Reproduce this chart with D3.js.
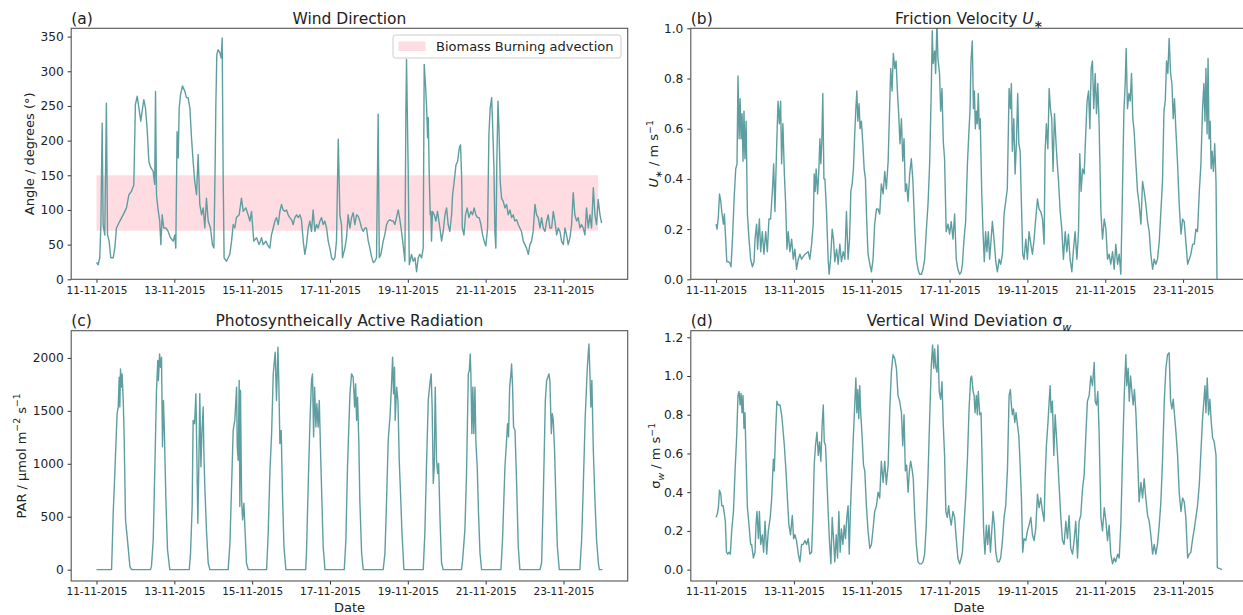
<!DOCTYPE html>
<html>
  <head>
    <meta charset="utf-8">
    <title>Meteorological conditions, 11-11-2015 to 24-11-2015</title>
    <script src="https://d3js.org/d3.v7.min.js"></script>
    <style type="text/css">
      body {
        margin: 0;
        background: #ffffff;
      }
      svg text {
        font-family: "DejaVu Sans", sans-serif;
        fill: #222222;
      }
    </style>
  </head>
  <body>
    <script>
      // Every series is a list of [hours since 11-11-2015 00:00, value]

      // (a) wind direction in degrees
      var windDirection = [
        [0,24.5],[1,21],[2,31],[2.7,79],[3.5,225],[4.1,79],[5.1,64],[6.1,254],[6.8,64],[7.8,55],
        [8.8,31],[10.3,31],[11.3,45],[12.3,74],[14.4,84],[16.4,93],[18.5,103],[20,122],[21.6,127],[23,136],
        [24,252],[25.1,264],[26.3,245],[27.3,228],[28.4,247],[29.2,259],[30.2,247],[31.2,218],[32.3,170],[33.5,161],
        [34.9,156],[35.9,137],[36.4,271],[37,122],[38,100],[39,84],[39.7,50],[40.5,93],[41.5,74],[42.8,74],
        [44.2,69],[45.6,60],[47.3,55],[48.3,64],[48.9,45],[49.7,213],[50.4,175],[51,247],[51.8,266],[53,279],
        [54.5,271],[55.5,262],[56.5,262],[57.6,247],[58.6,204],[59.6,170],[60.6,141],[61.7,122],[62.7,180],[63.7,108],
        [64.8,93],[65.8,103],[66.8,74],[67.8,117],[68.9,84],[70.3,74],[71.5,50],[72.4,45],[73.2,170],[73.6,250],
        [74.2,324],[75,331],[76.1,327],[76.9,319],[77.5,348],[78.1,151],[78.7,31],[80.2,26],[81.2,31],[82.2,36],
        [83.3,55],[84.3,79],[85.3,74],[86.3,89],[88,93],[89.4,117],[90.5,98],[92.1,103],[93.5,93],[94.6,84],
        [95.6,98],[97,55],[98.7,60],[100.3,50],[101.8,60],[102.8,50],[104.4,55],[105.9,48],[106.9,45],[107.9,64],
        [109,74],[110,84],[111,89],[112.1,79],[113.1,98],[114.1,108],[115.1,100],[116.2,98],[117.2,100],[118.2,93],
        [119.2,89],[120.3,86],[121.3,79],[122.3,89],[123.4,93],[124.4,89],[125.4,93],[126.4,86],[127.5,55],[128.5,36],
        [129.5,50],[130.6,74],[131.6,84],[132.6,69],[133.6,100],[134.7,69],[135.7,79],[136.7,74],[137.8,84],[138.8,89],
        [139.8,79],[140.8,84],[141.9,74],[142.9,55],[143.9,45],[145,31],[146,28],[147,31],[148,55],[149.1,202],
        [150.1,93],[151.1,79],[151.7,31],[153.2,45],[154.2,60],[155.2,93],[156.3,74],[157.3,89],[158.3,96],[159.3,79],
        [160.4,93],[161.4,91],[162.4,84],[163.5,74],[164.5,69],[165.5,74],[166.5,74],[167.6,55],[168.6,45],[169.6,33],
        [170.7,24],[171.7,26],[172.7,31],[173.7,238],[174.4,31],[175.4,36],[176.8,55],[177.8,64],[178.9,79],[179.9,84],
        [180.9,86],[182,84],[183,84],[184,79],[185,89],[186.1,100],[187.1,86],[188.1,69],[189.1,50],[190.2,26],
        [190.8,242],[191.2,317],[192.2,161],[192.9,21],[194.3,36],[195.3,26],[196.4,31],[197.4,11],[198.4,31],[199.4,36],
        [200.5,31],[201.5,45],[202.1,310],[203,276],[203.6,247],[204.2,204],[204.6,233],[205.2,151],[205.8,93],[206.2,98],
        [206.6,55],[207.2,98],[208.3,93],[209.3,84],[210.3,98],[211.8,74],[212.8,55],[213.8,69],[214.9,93],[215.9,103],
        [216.9,79],[217.9,69],[219,93],[219.6,122],[220.6,141],[221.7,165],[222.7,170],[223.7,189],[224.5,194],[225.2,146],
        [225.6,74],[226.6,64],[227.6,93],[228.6,103],[229.7,89],[230.9,98],[231.9,93],[232.9,103],[234,93],[235,89],
        [236,89],[237.1,79],[238.1,64],[239.1,55],[240.1,48],[241.2,74],[242,209],[242.8,247],[243.7,262],[244.3,223],
        [245.1,161],[245.7,69],[246.3,45],[246.9,170],[247.6,257],[248.2,218],[249,141],[249.8,117],[250.9,112],[251.9,103],
        [252.9,108],[253.9,93],[255,100],[256,89],[257,93],[258,84],[259.1,86],[260.1,79],[261.1,74],[262.1,69],
        [263.2,55],[264.2,50],[265.2,45],[266.3,36],[267.3,50],[268.3,55],[269.3,69],[270.4,108],[271.4,93],[272.4,89],
        [273.5,74],[274.5,89],[275.5,74],[276.6,69],[277.6,84],[278.6,93],[279.6,74],[280.7,74],[281.7,98],[282.7,84],
        [283.8,64],[284.8,74],[285.8,69],[286.8,55],[287.9,50],[288.9,74],[289.9,64],[290.9,50],[292,60],[293,79],
        [294,125],[295,93],[296.1,84],[297.1,89],[298.1,74],[299.1,79],[300.2,74],[301.2,64],[302.2,103],[303.3,74],
        [304.3,93],[305.3,74],[306.4,132],[307.4,93],[308.4,79],[309.4,115],[310.5,93],[311.5,81]
      ];

      // biomass burning advection sector: start/end hour and angle range
      var bandHours = [0, 309.4];
      var bandAngles = [70, 150];

      // (b) friction velocity U* in m/s
      var frictionVelocity = [
        [0,0.22],[0.6,0.2],[1.4,0.25],[2.1,0.34],[2.9,0.31],[3.5,0.27],[4.5,0.22],[5.1,0.26],[5.9,0.16],[6.6,0.07],
        [7.6,0.07],[8.6,0.064],[9.2,0.05],[10.1,0.16],[11.1,0.32],[12.1,0.44],[12.9,0.46],[13.5,0.81],[14.2,0.56],[14.8,0.72],
        [15.4,0.56],[16,0.66],[16.6,0.47],[17.2,0.67],[17.8,0.48],[18.5,0.63],[19.3,0.26],[20.3,0.16],[21.3,0.08],[22.4,0.05],
        [23.4,0.07],[24,0.16],[25,0.22],[25.6,0.12],[26.7,0.24],[27.5,0.11],[28.5,0.19],[29.5,0.1],[30.6,0.19],[31.6,0.11],
        [32.6,0.24],[33.6,0.24],[34.7,0.35],[35.5,0.46],[36.3,0.27],[37.3,0.52],[38.2,0.71],[39,0.62],[39.8,0.71],[40.4,0.46],
        [41.2,0.62],[42.1,0.42],[42.9,0.3],[43.7,0.12],[44.5,0.19],[45.5,0.11],[46.6,0.16],[47.6,0.08],[48.6,0.12],[49.6,0.04],
        [50.7,0.08],[51.7,0.1],[52.7,0.08],[54.8,0.1],[56.8,0.11],[57.8,0.08],[58.9,0.14],[59.9,0.22],[60.5,0.42],[61.1,0.35],
        [61.7,0.44],[62.6,0.34],[63.4,0.44],[64,0.56],[64.6,0.46],[65.2,0.55],[65.8,0.74],[66.5,0.4],[67.1,0.4],[68.1,0.27],
        [69.1,0.08],[69.7,0.02],[70.6,0.08],[71.6,0.2],[72.4,0.16],[73.2,0.07],[74.3,0.12],[75.3,0.06],[76.3,0.14],[77.3,0.07],
        [78.4,0.11],[79.4,0.08],[80.4,0.27],[81.4,0.08],[82.3,0.16],[83.1,0.35],[83.9,0.38],[84.7,0.44],[85.5,0.58],[86.2,0.68],
        [86.8,0.75],[87.4,0.63],[88.2,0.7],[88.8,0.6],[89.6,0.63],[90.5,0.54],[91.3,0.44],[92.1,0.4],[92.9,0.23],[93.7,0.1],
        [94.8,0.06],[95.8,0.03],[96.8,0.08],[97.8,0.22],[98.9,0.28],[99.9,0.28],[100.9,0.26],[101.9,0.38],[103,0.34],[104,0.43],
        [105,0.36],[106.1,0.47],[107.1,0.7],[107.7,0.84],[108.5,0.75],[109.3,0.9],[110.2,0.84],[111,0.87],[111.8,0.75],[112.6,0.66],
        [113.4,0.54],[114.3,0.64],[115.1,0.47],[115.9,0.56],[116.7,0.35],[117.5,0.38],[118.4,0.31],[119.4,0.42],[120.4,0.48],[121.4,0.39],
        [122.5,0.2],[123.5,0.08],[124.5,0.04],[125.5,0.02],[126.6,0.02],[127.6,0.04],[128.6,0.08],[129.6,0.19],[130.7,0.3],[131.7,0.46],
        [132.7,0.75],[133.3,0.99],[133.9,0.86],[134.8,0.91],[135.4,0.82],[136.2,1.03],[136.8,0.88],[137.8,0.82],[138.5,0.67],[139.3,0.76],
        [140.1,0.55],[140.9,0.48],[141.9,0.19],[143,0.22],[144,0.18],[145,0.23],[146.1,0.16],[147.1,0.26],[148.1,0.08],[149.1,0.04],
        [150.2,0.02],[151.2,0.03],[151.9,0.06],[152.9,0.16],[153.9,0.23],[155,0.46],[156,0.6],[156.6,0.67],[157.2,0.87],[158,0.95],
        [158.7,0.68],[159.3,0.75],[159.9,0.6],[160.5,0.67],[161.1,0.62],[161.7,0.74],[162.3,0.6],[162.9,0.64],[163.8,0.35],[164.6,0.19],
        [165.4,0.07],[166.2,0.19],[167,0.11],[167.9,0.19],[168.7,0.08],[169.5,0.15],[170.4,0.23],[171.4,0.16],[172.5,0.07],[173.5,0.03],
        [174.5,0.08],[175.5,0.06],[176.6,0.1],[177.6,0.26],[178.6,0.31],[179.6,0.36],[180.7,0.76],[181.5,0.68],[182.1,0.78],[182.7,0.51],
        [183.6,0.64],[184.4,0.42],[185.2,0.54],[186,0.74],[186.7,0.54],[187.5,0.51],[188.3,0.3],[189.1,0.1],[189.9,0.08],[191,0.16],
        [192,0.08],[193,0.19],[194.1,0.14],[195.1,0.1],[196.1,0.16],[197.1,0.24],[198.2,0.32],[199.2,0.28],[200.2,0.27],[201.3,0.24],
        [202.3,0.14],[202.9,0.51],[203.7,0.62],[204.6,0.52],[205.4,0.76],[206.2,0.68],[207,0.64],[207.8,0.43],[208.7,0.66],[209.5,0.56],
        [210.3,0.47],[211.1,0.4],[212.2,0.27],[213.2,0.2],[214.2,0.08],[215.3,0.19],[216.3,0.11],[217.3,0.18],[218.3,0.08],[219.4,0.03],
        [220.4,0.12],[221.4,0.19],[222.5,0.08],[223.5,0.19],[224.3,0.5],[225.1,0.35],[226,0.44],[227,0.42],[228,0.59],[228.8,0.71],
        [229.7,0.75],[230.5,0.6],[231.3,0.84],[232.1,0.87],[232.9,0.68],[233.8,0.82],[234.6,0.66],[235.4,0.78],[236.2,0.62],[237.3,0.27],
        [238.3,0.16],[239.4,0.24],[240.4,0.2],[241.4,0.08],[242.4,0.1],[243.4,0.06],[244.5,0.11],[245.5,0.04],[246.5,0.14],[247.6,0.06],
        [248.6,0.1],[249.6,0.02],[250.6,0.35],[251.5,0.67],[252.3,0.78],[252.9,0.92],[253.7,0.68],[254.6,0.74],[255.4,0.71],[256.2,0.82],
        [257,0.64],[257.8,0.59],[258.9,0.46],[259.9,0.35],[260.9,0.3],[262,0.22],[263,0.39],[264,0.35],[265,0.3],[266.1,0.23],
        [267.1,0.19],[268.1,0.1],[269.2,0.04],[270.2,0.08],[271.2,0.06],[272.2,0.08],[273.3,0.15],[274.3,0.27],[275.3,0.39],[276.2,0.67],
        [277,0.71],[277.8,0.87],[278.6,0.82],[279.4,0.96],[280.3,0.82],[281.1,0.78],[281.9,0.64],[282.7,0.72],[283.6,0.59],[284.6,0.46],
        [285.6,0.3],[286.7,0.18],[287.7,0.24],[288.7,0.23],[289.7,0.15],[290.8,0.06],[291.8,0.08],[292.8,0.1],[293.9,0.14],[294.9,0.14],
        [295.9,0.2],[296.9,0.19],[298,0.35],[299,0.46],[300,0.68],[300.8,0.78],[301.5,0.63],[302.1,0.84],[302.8,0.58],[303.4,0.88],
        [304,0.56],[304.7,0.63],[305.3,0.44],[305.9,0.51],[306.7,0.43],[307.5,0.54],[308.3,0.39],[308.9,0]
      ];

      // (c) photosynthetically active radiation in umol m-2 s-1
      var parRadiation = [
        [0,0],[9.3,0],[10.3,533],[11.3,909],[12.7,1473],[13.4,1536],[14,1818],[14.4,1536],[14.8,1896],[15.4,1724],
        [15.8,1849],[16.5,1598],[17.1,1222],[17.9,470],[19.1,282],[20.6,31],[21.6,0],
        [33.3,0],[33.9,31],[35,282],[36,972],[37,1693],[37.8,1975],[38.2,1787],[38.9,2037],[39.5,1912],
        [40.1,2006],[40.7,1160],[41.3,1598],[41.9,1285],[42.8,658],[43.8,188],[45.2,0],
        [57.2,0],[58,157],[59,596],[59.6,1410],[60.5,1379],[61.3,1661],[61.9,1066],[62.5,439],[63.1,972],
        [63.7,1661],[64.4,972],[65,1285],[65.8,1536],[66.2,1128],[66.8,784],[67.9,345],[68.9,63],[69.9,0],
        [81.2,0],[82.3,251],[83.3,784],[84.3,1316],[85.3,1410],[86.4,1724],[86.8,1160],[87.4,1034],[88,1787],
        [88.4,596],[88.8,1693],[89.5,658],[90.1,470],[90.9,627],[91.5,407],[92.5,63],[93.6,0],
        [104.9,0],[105.9,345],[106.9,909],[108,1285],[109,1849],[110.2,2053],[111,1598],[111.9,2100],[112.5,1724],
        [113.1,1191],[113.9,1316],[114.7,721],[115.6,219],[116.8,0],
        [129,0],[129.5,157],[130.6,815],[131.6,1379],[132.6,1787],[133.2,1849],[133.9,1254],[134.5,1724],[135.3,1348],
        [135.9,1567],[136.7,1348],[137.4,1598],[138.2,1097],[139,658],[139.8,219],[140.9,0],
        [152.8,0],[153.8,282],[154.8,972],[156.3,1661],[157.3,1849],[158.3,1818],[159.2,1536],[159.8,1755],[160.4,1410],
        [161,1630],[161.8,1191],[162.4,658],[163.5,157],[164.5,0],
        [176.8,0],[177.9,157],[178.9,658],[179.9,1222],[181,1442],[181.8,1693],[182.6,2006],[183.2,1661],[183.8,1912],
        [184.2,1410],[185.1,1724],[185.9,1598],[186.7,1034],[187.5,721],[188.4,345],[189.6,0],
        [201.5,0],[202.5,345],[203.5,972],[204.6,1598],[205.6,1755],[206.4,1849],[207,1536],[207.7,815],[208.3,972],
        [208.9,1724],[209.7,1034],[210.4,909],[211,1003],[211.8,501],[212.8,63],[213.8,0],
        [225.1,0],[225.8,94],[227.2,376],[228.2,909],[229.3,1849],[229.9,1880],[230.5,2037],[230.9,1849],[231.5,1285],
        [232.1,1724],[232.7,1285],[233.4,1724],[234,1191],[234.8,972],[235.6,533],[236.5,157],[237.5,0],
        [249.4,0],[250.4,282],[251.9,972],[252.9,1222],[253.5,1379],[254.1,1254],[254.8,1724],[255.4,1818],[256,1943],
        [256.6,1724],[257.2,1348],[258.1,1316],[259.1,815],[260.1,219],[261.1,0],
        [273.5,0],[274.5,63],[275.5,658],[276.8,1598],[277.6,1787],[278.4,1818],[279,1849],[279.6,1787],[280.5,1285],
        [281.1,1473],[281.7,1410],[282.5,1128],[283.3,658],[284.2,219],[285.4,0],
        [298.1,0],[299.2,282],[300.2,784],[301.4,1442],[302.7,1912],[303.7,2131],[304.3,1849],[304.9,1536],[305.5,1787],
        [306.4,1128],[307.4,658],[308.4,282],[309.5,63],[310.1,0],[312,0]
      ];

      // (d) standard deviation of vertical wind in m/s
      var sigmaW = [
        [0,0.27],[0.8,0.29],[1.4,0.32],[2.1,0.41],[2.9,0.39],[3.5,0.33],[4.3,0.33],[4.9,0.3],[5.7,0.25],[6.4,0.09],
        [7.2,0.08],[8,0.09],[8.8,0.08],[9.6,0.2],[10.7,0.3],[11.7,0.51],[12.7,0.69],[13.5,0.9],[14.2,0.92],[14.8,0.85],
        [15.4,0.91],[16,0.81],[16.6,0.9],[17.2,0.73],[17.8,0.81],[18.5,0.57],[19.3,0.32],[20.3,0.23],[21.3,0.13],[21.9,0.13],
        [23,0.06],[24,0.09],[24.6,0.23],[25.2,0.3],[26.1,0.16],[26.7,0.3],[27.5,0.13],[28.5,0.18],[29.3,0.09],[30.2,0.25],
        [31.2,0.08],[32.2,0.2],[33.4,0.27],[34.3,0.37],[35.3,0.57],[35.9,0.51],[36.7,0.71],[37.5,0.87],[38.4,0.85],[39.4,0.85],
        [40.4,0.8],[41.2,0.73],[42.1,0.64],[43.1,0.51],[44.1,0.35],[44.9,0.23],[45.9,0.18],[47,0.28],[47.8,0.16],[48.6,0.18],
        [49.6,0.15],[50.7,0.08],[51.7,0.04],[52.7,0.13],[53.7,0.13],[54.8,0.15],[55.8,0.13],[56.8,0.16],[57.8,0.08],[58.9,0.09],
        [59.7,0.27],[60.5,0.54],[61.3,0.64],[62.2,0.71],[63,0.59],[63.8,0.66],[64.6,0.56],[65.4,0.75],[66.1,0.85],[66.7,0.66],
        [67.5,0.64],[68.3,0.47],[69.1,0.3],[69.9,0.15],[70.8,0.03],[71.6,0.27],[72.4,0.16],[73.2,0.04],[74.1,0.18],[74.9,0.06],
        [75.7,0.3],[76.5,0.09],[77.3,0.21],[78.2,0.13],[79,0.23],[79.8,0.16],[80.6,0.27],[81.4,0.33],[82.1,0.08],[82.9,0.32],
        [83.7,0.49],[84.5,0.66],[85.3,0.81],[86.2,0.99],[86.8,0.81],[87.4,0.93],[88,0.78],[88.6,0.95],[89.2,0.81],[90.1,0.68],
        [90.9,0.54],[91.7,0.51],[92.7,0.33],[93.7,0.2],[94.8,0.11],[95.8,0.13],[96.8,0.21],[97.8,0.3],[98.9,0.33],[99.9,0.4],
        [100.9,0.37],[101.9,0.56],[103,0.45],[104,0.56],[105,0.44],[106.1,0.54],[107.1,0.83],[108.1,1.02],[109.1,1.11],[110.2,1.09],
        [111.2,1.04],[112.2,0.9],[113.2,0.87],[114.3,0.81],[115.1,0.64],[115.9,0.8],[116.7,0.51],[117.5,0.54],[118.4,0.4],[119.2,0.51],
        [120,0.56],[120.8,0.52],[121.6,0.47],[122.5,0.28],[123.5,0.13],[124.5,0.04],[125.5,0.03],[126.6,0.03],[127.6,0.04],[128.6,0.08],
        [129.6,0.23],[130.7,0.49],[131.7,0.78],[132.7,1.05],[133.5,1.16],[134.2,1.04],[134.8,1.14],[135.4,1.05],[136.2,1.02],[136.8,1.16],
        [137.6,0.92],[138.5,0.88],[139.3,0.97],[140.1,0.75],[140.9,0.59],[141.7,0.3],[142.6,0.27],[143.4,0.33],[144.2,0.27],[145,0.23],
        [146.1,0.3],[147.1,0.27],[148.1,0.16],[149.1,0.06],[150.2,0.03],[151.2,0.06],[151.9,0.09],[152.9,0.23],[153.9,0.37],[155,0.57],
        [156,0.83],[157,0.99],[157.6,1],[158.5,0.92],[159.1,0.9],[159.7,0.81],[160.5,0.9],[161.1,0.8],[161.7,0.92],[162.6,0.8],
        [163.4,0.81],[164.2,0.51],[165,0.2],[165.8,0.08],[166.7,0.23],[167.5,0.13],[168.3,0.23],[169.2,0.09],[170,0.2],[170.8,0.3],
        [171.6,0.23],[172.5,0.09],[173.5,0.04],[174.5,0.04],[175.5,0.06],[176.6,0.15],[177.6,0.27],[178.6,0.33],[179.7,0.52],[180.7,0.9],
        [181.5,0.93],[182.1,0.85],[182.7,0.8],[183.4,0.83],[184.2,0.76],[185,0.81],[185.8,0.75],[186.7,0.69],[187.5,0.54],[188.3,0.37],
        [189.1,0.09],[189.9,0.16],[191,0.15],[192,0.2],[193,0.23],[194.1,0.27],[195.1,0.18],[196.1,0.15],[197.1,0.21],[198.2,0.39],
        [199.2,0.32],[200.2,0.37],[201.3,0.3],[202.3,0.25],[202.9,0.47],[203.7,0.64],[204.6,0.75],[205.4,0.87],[206,0.95],[206.6,0.81],
        [207.4,0.87],[208.3,0.59],[209.1,0.8],[209.9,0.69],[210.7,0.57],[211.5,0.44],[212.6,0.27],[213.6,0.15],[214.6,0.13],[215.7,0.25],
        [216.7,0.16],[217.7,0.28],[218.7,0.11],[219.8,0.08],[220.8,0.15],[221.8,0.25],[222.9,0.06],[223.9,0.25],[224.9,0.28],[226,0.42],
        [227,0.49],[228,0.69],[229,0.87],[230.1,0.9],[231.1,1],[232.1,0.95],[233.2,1.07],[233.8,0.87],[234.6,0.85],[235.4,0.92],
        [236.2,0.71],[237.3,0.27],[238.3,0.2],[239.4,0.32],[240.4,0.25],[241.4,0.15],[242.4,0.23],[243.4,0.08],[244.5,0.03],[245.5,0.06],
        [246.5,0.04],[247.6,0.08],[248.6,0.06],[249.6,0.23],[250.6,0.57],[251.7,0.9],[252.7,1.11],[253.3,0.95],[254.1,1.04],[254.8,0.87],
        [255.6,1],[256.4,0.92],[257.2,0.85],[258,0.93],[258.9,0.81],[259.9,0.59],[260.9,0.35],[262,0.45],[263,0.37],[264,0.47],
        [265,0.37],[266.1,0.28],[267.1,0.25],[268.1,0.18],[269.2,0.08],[270.2,0.13],[271.2,0.08],[272.2,0.13],[273.3,0.23],[274.3,0.35],
        [275.3,0.56],[276.4,0.87],[277.4,1.04],[278.4,1.11],[279.4,1.12],[280.3,0.87],[281.1,0.83],[281.9,0.88],[282.7,0.8],[283.6,0.71],
        [284.6,0.59],[285.6,0.4],[286.7,0.3],[287.7,0.37],[288.7,0.35],[289.7,0.27],[290.8,0.06],[291.8,0.08],[292.8,0.09],[293.9,0.16],
        [294.9,0.21],[295.9,0.27],[296.9,0.33],[298,0.44],[299,0.61],[300,0.78],[300.8,0.87],[301.5,0.95],[302.1,0.81],[302.9,0.99],
        [303.7,0.8],[304.5,0.88],[305.4,0.76],[306.2,0.68],[307.2,0.66],[308.3,0.59],[309.1,0.01],[312,0]
      ];

      // Tick values
      var dateTickHours = [0, 48, 96, 144, 192, 240, 288];
      var angleTicks = [0, 50, 100, 150, 200, 250, 300, 350];
      var ustarTicks = [0, 0.2, 0.4, 0.6, 0.8, 1.0];
      var parTicks = [0, 500, 1000, 1500, 2000];
      var sigmaTicks = [0, 0.2, 0.4, 0.6, 0.8, 1.0, 1.2];

      var svgWidth = 1243;
      var svgHeight = 615;
      var lineColor = "#5f9ea0";
      var start = Date.UTC(2015, 10, 11);

      var svg = d3.select("body")
                  .append("svg")
                  .attr("width", svgWidth)
                  .attr("height", svgHeight);

      function hourToDate(h) {
          return new Date(start + h * 3600 * 1000);
      }

      // writes text with italic / subscript / superscript parts as tspans
      function richText(sel, parts, size) {
          var shift = 0;
          parts.forEach(function(p) {
              var target = p.sub ? size * 0.28 : (p.sup ? -size * 0.42 : 0);
              var ts = sel.append("tspan").attr("dy", target - shift).text(p.t);
              shift = target;
              if (p.sub || p.sup) ts.attr("font-size", size * 0.72);
              if (p.it) ts.attr("font-style", "italic");
          });
      }

      function drawPanel(cfg) {
          var g = svg.append("g");

          var xScale = d3.scaleUtc()
                         .domain([hourToDate(-15.6), hourToDate(327.6)])
                         .range([cfg.x0, cfg.x1]);
          var yScale = d3.scaleLinear()
                         .domain(cfg.yDomain)
                         .range([cfg.y1, cfg.y0]);

          svg.append("clipPath")
             .attr("id", "clip-" + cfg.key)
             .append("rect")
             .attr("x", cfg.x0)
             .attr("y", cfg.y0)
             .attr("width", cfg.x1 - cfg.x0)
             .attr("height", cfg.y1 - cfg.y0);

          var plot = g.append("g").attr("clip-path", "url(#clip-" + cfg.key + ")");

          // shaded sector
          if (cfg.band) {
              plot.append("rect")
                  .attr("x", xScale(hourToDate(cfg.band.hours[0])))
                  .attr("width", xScale(hourToDate(cfg.band.hours[1])) - xScale(hourToDate(cfg.band.hours[0])))
                  .attr("y", yScale(cfg.band.values[1]))
                  .attr("height", yScale(cfg.band.values[0]) - yScale(cfg.band.values[1]))
                  .attr("fill", "#ffc0cb")
                  .attr("fill-opacity", 0.55);
          }

          var line = d3.line()
                       .x(function(d) { return xScale(hourToDate(d[0])); })
                       .y(function(d) { return yScale(d[1]); });

          plot.append("path")
              .datum(cfg.data)
              .attr("d", line)
              .attr("fill", "none")
              .attr("stroke", lineColor)
              .attr("stroke-width", 1.4)
              .attr("stroke-linejoin", "round");

          // x axis
          var xAxis = d3.axisBottom(xScale)
                        .tickValues(dateTickHours.map(hourToDate))
                        .tickFormat(d3.utcFormat("%d-%m-%Y"))
                        .tickSize(3.5)
                        .tickPadding(3.5)
                        .tickSizeOuter(0);
          var gx = g.append("g")
                    .attr("transform", "translate(0," + cfg.y1 + ")")
                    .call(xAxis);
          gx.select(".domain").remove();
          gx.attr("font-family", "DejaVu Sans").attr("font-size", 10.5);
          gx.selectAll("line").attr("stroke", "#333");

          // y axis
          var yAxis = d3.axisLeft(yScale)
                        .tickValues(cfg.yTicks)
                        .tickFormat(cfg.yFormat)
                        .tickSize(3.5)
                        .tickPadding(4)
                        .tickSizeOuter(0);
          var gy = g.append("g")
                    .attr("transform", "translate(" + cfg.x0 + ",0)")
                    .call(yAxis);
          gy.select(".domain").remove();
          gy.attr("font-family", "DejaVu Sans").attr("font-size", 12.2);
          gy.selectAll("line").attr("stroke", "#333");

          // frame
          g.append("rect")
           .attr("x", cfg.x0)
           .attr("y", cfg.y0)
           .attr("width", cfg.x1 - cfg.x0)
           .attr("height", cfg.y1 - cfg.y0)
           .attr("fill", "none")
           .attr("stroke", "#555")
           .attr("stroke-width", 1.1);

          // panel letter and title
          g.append("text")
           .attr("x", cfg.x0)
           .attr("y", cfg.y0 - 4.5)
           .attr("font-size", 15.5)
           .text(cfg.letter);

          var title = g.append("text")
                       .attr("x", (cfg.x0 + cfg.x1) / 2)
                       .attr("y", cfg.y0 - 4.5)
                       .attr("text-anchor", "middle")
                       .attr("font-size", 15.5);
          richText(title, cfg.title, 15.5);

          // y label
          var ylab = g.append("text")
                      .attr("transform", "translate(" + cfg.ylabelX + "," + (cfg.y0 + cfg.y1) / 2 + ") rotate(-90)")
                      .attr("text-anchor", "middle")
                      .attr("font-size", 13);
          richText(ylab, cfg.ylabel, 13);

          if (cfg.xlabel) {
              g.append("text")
               .attr("x", (cfg.x0 + cfg.x1) / 2)
               .attr("y", cfg.y1 + 30.5)
               .attr("text-anchor", "middle")
               .attr("font-size", 13)
               .text(cfg.xlabel);
          }

          return { x: xScale, y: yScale };
      }

      var leftCol = [71.2, 627.7];
      var rightCol = [690.8, 1247.3];
      var topRow = [28.3, 279.3];
      var bottomRow = [330.7, 581];

      var oneDecimal = function(d) { return d.toFixed(1); };

      drawPanel({
          key: "a", x0: leftCol[0], x1: leftCol[1], y0: topRow[0], y1: topRow[1],
          data: windDirection, yDomain: [0, 362], yTicks: angleTicks, yFormat: d3.format("d"),
          band: { hours: bandHours, values: bandAngles },
          letter: "(a)", title: [{ t: "Wind Direction" }],
          ylabelX: 34, ylabel: [{ t: "Angle / degrees (°)" }]
      });

      drawPanel({
          key: "b", x0: rightCol[0], x1: rightCol[1], y0: topRow[0], y1: topRow[1],
          data: frictionVelocity, yDomain: [0, 1], yTicks: ustarTicks, yFormat: oneDecimal,
          letter: "(b)", title: [{ t: "Friction Velocity " }, { t: "U", it: true }, { t: "∗", sub: true }],
          ylabelX: 658,
          ylabel: [{ t: "U", it: true }, { t: "∗", sub: true }, { t: " / m s" }, { t: "−1", sup: true }]
      });

      drawPanel({
          key: "c", x0: leftCol[0], x1: leftCol[1], y0: bottomRow[0], y1: bottomRow[1],
          data: parRadiation, yDomain: [-107, 2257], yTicks: parTicks, yFormat: d3.format("d"),
          letter: "(c)", title: [{ t: "Photosyntheically Active Radiation" }],
          ylabelX: 25.5,
          ylabel: [{ t: "PAR / µmol m" }, { t: "−2", sup: true }, { t: " s" }, { t: "−1", sup: true }],
          xlabel: "Date"
      });

      drawPanel({
          key: "d", x0: rightCol[0], x1: rightCol[1], y0: bottomRow[0], y1: bottomRow[1],
          data: sigmaW, yDomain: [-0.0587, 1.234], yTicks: sigmaTicks, yFormat: oneDecimal,
          letter: "(d)", title: [{ t: "Vertical Wind Deviation σ" }, { t: "w", sub: true, it: true }],
          ylabelX: 660,
          ylabel: [{ t: "σ" }, { t: "w", sub: true, it: true }, { t: " / m s" }, { t: "−1", sup: true }],
          xlabel: "Date"
      });

      // legend for the shaded sector in panel (a)
      var legend = svg.append("g");
      legend.append("rect")
            .attr("x", 393)
            .attr("y", 35)
            .attr("width", 228)
            .attr("height", 23)
            .attr("rx", 2.5)
            .attr("fill", "#ffffff")
            .attr("fill-opacity", 0.8)
            .attr("stroke", "#cccccc")
            .attr("stroke-width", 1);
      legend.append("rect")
            .attr("x", 398.5)
            .attr("y", 41.5)
            .attr("width", 27)
            .attr("height", 9.5)
            .attr("fill", "#ffc0cb")
            .attr("fill-opacity", 0.55);
      legend.append("text")
            .attr("x", 436)
            .attr("y", 51.2)
            .attr("font-size", 13)
            .text("Biomass Burning advection");
    </script>
  </body>
</html>
